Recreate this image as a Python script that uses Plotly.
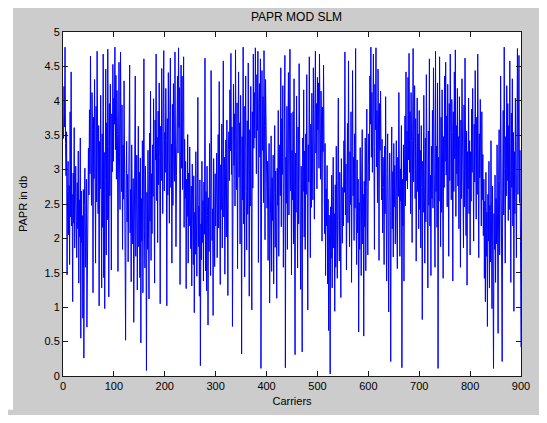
import plotly.graph_objects as go

# PAPR values per carrier, 900 carriers
papr_db = [
    3.45, 4.21, 3.62, 4.78, 3.38, 2.91, 3.55, 1.47, 2.68, 3.12, 2.05, 2.77, 1.62, 3.84, 2.31, 4.42, 2.18, 2.64, 1.08, 2.95, 2.22, 3.61, 1.86, 2.47, 3.05,
    2.38, 1.72, 2.81, 2.14, 3.27, 1.35, 2.56, 2.02, 3.46, 0.55, 2.69, 1.94, 2.33, 0.84, 2.71, 0.26, 2.48, 3.02, 1.58, 2.25, 2.86, 0.71, 2.41, 1.96, 3.31,
    2.63, 3.87, 2.94, 4.65, 3.22, 2.48, 4.12, 3.58, 1.21, 3.76, 2.87, 4.31, 3.05, 1.64, 3.92, 2.53, 4.72, 3.18, 2.36, 3.64, 1.02, 3.41, 2.72, 4.08, 2.45,
    1.28, 3.52, 2.16, 4.68, 1.43, 3.25, 0.98, 2.84, 4.46, 1.76, 3.68, 2.27, 4.75, 3.34, 1.15, 3.96, 2.62, 4.24, 3.48, 1.54, 3.81, 2.97, 4.53, 3.12, 4.04,
    3.66, 4.78, 3.29, 4.37, 2.86, 4.15, 3.51, 1.52, 3.88, 4.56, 3.17, 2.42, 4.71, 3.73, 2.68, 3.94, 1.84, 3.36, 2.57, 4.29, 2.13, 3.05, 0.52, 2.76, 3.41,
    2.24, 2.93, 1.66, 3.18, 2.47, 4.52, 2.08, 2.71, 1.37, 3.36, 2.55, 1.92, 2.87, 0.78, 3.02, 2.19, 4.36, 1.74, 2.62, 3.21, 1.25, 2.44, 3.63, 1.88, 2.96,
    1.43, 3.17, 0.48, 2.58, 1.96, 3.42, 1.21, 2.79, 4.61, 2.12, 1.57, 3.05, 2.36, 0.08, 2.67, 1.84, 3.28, 2.41, 1.12, 3.53, 2.25, 4.14, 1.68, 2.94, 2.07,
    3.36, 2.61, 4.03, 2.92, 1.35, 3.72, 3.14, 4.68, 2.55, 3.47, 1.94, 3.85, 2.78, 4.26, 3.19, 1.05, 3.63, 2.84, 4.47, 3.28, 2.36, 3.91, 4.73, 2.69, 3.54,
    2.96, 4.18, 3.42, 1.02, 3.74, 2.63, 4.41, 3.15, 2.22, 3.86, 4.62, 2.74, 3.37, 1.64, 3.95, 2.48, 4.25, 3.06, 2.83, 4.71, 3.52, 1.88, 2.91, 3.68, 4.36,
    3.24, 4.77, 3.61, 4.19, 1.33, 3.88, 4.52, 3.02, 4.36, 2.71, 3.79, 4.64, 2.16, 3.44, 2.58, 3.12, 1.27, 2.86, 2.32, 3.51, 1.64, 2.95, 2.18, 3.33, 2.47,
    1.85, 2.76, 1.31, 3.08, 2.24, 1.62, 2.91, 0.92, 2.38, 1.77, 3.26, 2.04, 1.45, 2.63, 4.05, 1.88, 2.47, 1.16, 2.85, 0.15, 2.21, 1.69, 3.12, 1.94, 2.55,
    1.38, 2.82, 2.06, 4.62, 1.53, 2.68, 1.24, 3.05, 2.33, 0.74, 2.59, 1.81, 3.38, 2.12, 1.46, 4.44, 2.74, 1.97, 2.43, 0.88, 3.16, 2.27, 1.59, 2.94, 2.18,
    2.66, 3.24, 1.72, 2.88, 3.51, 2.15, 4.28, 2.54, 1.33, 3.07, 2.42, 3.66, 1.86, 2.97, 4.58, 2.31, 3.18, 1.48, 2.79, 3.43, 2.02, 3.72, 2.61, 1.17, 3.29,
    3.55, 2.84, 4.16, 3.27, 4.69, 2.93, 3.62, 0.72, 3.38, 4.24, 3.06, 3.81, 2.47, 4.74, 3.33, 2.71, 3.97, 1.56, 3.46, 4.42, 2.89, 3.68, 1.92, 4.08, 3.15,
    0.32, 3.48, 2.56, 4.78, 2.21, 3.92, 1.44, 3.26, 4.36, 2.68, 1.83, 3.71, 2.35, 4.55, 2.94, 1.16, 3.58, 2.47, 4.21, 3.02, 0.96, 3.84, 2.73, 4.68, 3.31,
    4.12, 3.46, 4.77, 3.82, 2.94, 4.38, 3.57, 4.72, 1.65, 3.96, 4.25, 3.18, 4.61, 0.11, 3.75, 4.44, 3.28, 4.06, 2.52, 4.73, 3.64, 1.98, 4.31, 3.42, 2.86,
    2.44, 3.12, 1.68, 2.76, 3.38, 1.06, 2.53, 2.05, 3.49, 1.52, 2.88, 2.26, 3.21, 1.34, 2.67, 3.64, 1.87, 2.98, 2.32, 1.13, 3.02, 2.48, 3.86, 1.74, 2.91,
    3.36, 2.62, 4.48, 2.17, 3.74, 2.93, 4.22, 1.58, 3.45, 2.78, 4.66, 0.12, 3.18, 2.51, 3.92, 1.84, 3.57, 4.41, 2.34, 3.06, 4.75, 2.69, 3.82, 1.47, 3.28,
    2.56, 3.84, 1.92, 4.32, 2.76, 0.31, 3.24, 2.38, 4.07, 2.84, 1.57, 3.62, 2.21, 4.54, 2.93, 3.38, 1.26, 3.05, 2.47, 0.35, 3.46, 2.68, 4.16, 2.02, 3.27,
    1.84, 3.52, 2.64, 4.38, 2.19, 0.96, 3.36, 2.82, 4.64, 3.04, 1.72, 3.66, 2.45, 4.11, 3.18, 2.56, 4.48, 3.42, 2.28, 3.87, 4.72, 3.24, 3.96, 2.72, 4.34,
    3.58, 4.26, 3.02, 4.68, 3.44, 2.86, 4.14, 3.72, 1.96, 3.91, 3.26, 4.52, 2.64, 2.07, 3.38, 1.46, 2.72, 2.18, 3.06, 1.34, 2.57, 0.66, 2.34, 1.82, 0.03,
    2.46, 1.71, 2.92, 1.28, 2.54, 3.18, 1.86, 2.36, 0.94, 2.78, 1.58, 3.34, 2.12, 1.42, 2.84, 4.04, 2.26, 1.67, 2.96, 2.41, 1.14, 3.16, 2.52, 1.93, 2.74,
    2.18, 3.42, 2.67, 4.71, 2.34, 3.08, 1.54, 2.86, 3.67, 2.23, 4.58, 2.76, 1.88, 3.26, 2.49, 3.84, 1.36, 2.94, 4.44, 2.62, 3.18, 1.97, 3.52, 2.44, 4.76,
    2.36, 1.62, 3.14, 2.08, 2.86, 0.64, 2.52, 1.84, 3.32, 2.26, 1.46, 2.98, 3.58, 1.92, 2.64, 0.58, 2.83, 2.17, 3.46, 1.53, 2.74, 3.88, 2.31, 1.76, 3.06,
    3.52, 2.84, 4.36, 3.66, 4.78, 3.18, 4.12, 2.96, 3.82, 4.68, 3.34, 1.84, 4.24, 3.58, 4.77, 3.04, 3.86, 2.52, 4.46, 3.72, 1.68, 3.96, 3.28, 4.14, 2.88,
    2.56, 3.44, 2.08, 3.18, 2.74, 1.62, 3.34, 2.36, 4.06, 2.62, 1.38, 2.94, 3.52, 2.18, 0.93, 2.72, 3.24, 2.46, 0.21, 2.88, 3.62, 2.14, 2.97, 1.73, 3.38,
    2.46, 3.06, 1.92, 2.78, 3.42, 2.24, 1.56, 3.18, 2.61, 4.12, 2.32, 1.74, 3.01, 2.54, 3.64, 0.12, 2.86, 2.18, 3.36, 1.38, 2.92, 3.78, 2.47, 4.42, 2.84,
    3.56, 2.72, 4.34, 3.14, 4.69, 2.96, 3.84, 2.36, 4.12, 3.42, 1.94, 3.68, 4.76, 2.82, 3.36, 4.22, 2.58, 3.74, 1.67, 3.28, 4.04, 2.68, 3.52, 2.14, 3.86,
    2.42, 3.28, 1.86, 3.64, 2.74, 0.82, 3.12, 2.38, 4.08, 2.96, 1.64, 3.46, 2.24, 4.38, 2.66, 3.02, 1.28, 3.56, 2.48, 4.61, 2.18, 2.92, 1.46, 3.34, 2.58,
    3.86, 2.44, 4.48, 2.96, 3.62, 1.58, 4.72, 2.68, 3.34, 2.16, 4.26, 0.11, 3.18, 2.54, 4.64, 3.06, 1.88, 3.76, 2.38, 4.16, 2.86, 1.42, 3.48, 2.74, 4.36,
    3.12, 4.56, 2.92, 3.78, 2.46, 4.24, 3.36, 1.74, 3.96, 2.84, 4.68, 3.22, 2.56, 4.02, 3.54, 1.38, 3.84, 2.68, 4.42, 3.16, 4.74, 2.32, 3.64, 2.94, 4.18,
    2.76, 3.48, 2.14, 4.06, 3.02, 1.58, 3.72, 2.58, 4.32, 2.88, 3.36, 1.86, 3.94, 2.46, 4.62, 3.18, 2.04, 3.56, 1.32, 3.26, 2.72, 4.04, 2.36, 3.42, 1.76,
    3.26, 2.54, 3.88, 2.96, 4.18, 3.34, 1.96, 3.66, 2.82, 4.44, 3.08, 2.28, 3.76, 2.64, 4.68, 3.14, 1.72, 3.52, 2.88, 4.02, 3.46, 2.18, 3.84, 2.56, 3.22,
    2.04, 2.86, 1.42, 2.54, 1.08, 2.96, 1.74, 2.38, 0.72, 2.64, 1.96, 3.12, 1.28, 2.48, 1.66, 3.42, 2.22, 0.98, 2.76, 1.54, 0.11, 2.36, 1.84, 2.92, 1.36,
    2.58, 1.92, 3.36, 2.14, 0.62, 2.84, 3.58, 1.76, 2.46, 4.36, 2.08, 3.14, 0.21, 2.72, 3.86, 2.34, 4.78, 3.02, 1.64, 3.48, 2.62, 4.22, 2.84, 3.96, 2.26,
    3.64, 2.42, 4.58, 3.16, 1.36, 3.82, 2.74, 4.32, 2.18, 3.54, 0.94, 3.26, 2.36, 4.04, 2.88, 1.72, 3.42, 4.76, 2.64, 3.92, 4.66, 2.52, 3.28, 1.96, 0.42,
]
carriers = list(range(1, len(papr_db) + 1))

x_tickvals = [0, 100, 200, 300, 400, 500, 600, 700, 800, 900]
x_ticktext = ["0", "100", "200", "300", "400", "500", "600", "700", "800", "900"]
y_tickvals = [0, 0.5, 1, 1.5, 2, 2.5, 3, 3.5, 4, 4.5, 5]
y_ticktext = ["0", "0.5", "1", "1.5", "2", "2.5", "3", "3.5", "4", "4.5", "5"]

FONT = "Liberation Sans, Arial, Helvetica, sans-serif"

fig = go.Figure()
fig.add_trace(go.Scatter(
    x=carriers, y=papr_db, mode="lines",
    line=dict(color="#0000ff", width=1),
    showlegend=False, hoverinfo="skip",
))

# the page body adds an 8px margin on every side; size the figure so the page fits the window
W, H = 531, 407
ml, mr, mt, mb = 55, 9, 24, 31
pw, ph = W - ml - mr, H - mt - mb

axis_common = dict(
    showline=True, linecolor="#1a1a1a", linewidth=1, mirror="ticks",
    ticks="inside", ticklen=5, tickcolor="#1a1a1a", tickwidth=1,
    showgrid=False, zeroline=False, ticklabeloverflow="allow",
    tickfont=dict(family=FONT, size=11, color="#000000"),
)

fig.update_layout(
    width=W, height=H, autosize=False,
    margin=dict(l=ml, r=mr, t=mt, b=mb, pad=0),
    paper_bgcolor="#cccccc", plot_bgcolor="#ffffff",
    title=dict(text="PAPR MOD SLM", x=(ml + pw / 2) / W, xanchor="center",
               y=1 - 9 / H, yanchor="middle",
               font=dict(family=FONT, size=12, color="#000000")),
    xaxis=dict(range=[0, 900], tickvals=x_tickvals, ticktext=x_ticktext,
               title=dict(text="Carriers", standoff=6,
                          font=dict(family=FONT, size=11, color="#000000")),
               **axis_common),
    yaxis=dict(range=[0, 5], tickvals=y_tickvals, ticktext=y_ticktext,
               title=dict(text="PAPR in db", standoff=14,
                          font=dict(family=FONT, size=11, color="#000000")),
               **axis_common),
    shapes=[dict(type="rect", xref="paper", yref="paper",
                 x0=-ml / pw - 0.01, x1=(4 - ml) / pw,
                 y0=-mb / ph - 0.01, y1=1 + mt / ph + 0.01,
                 fillcolor="#ffffff", line=dict(width=0), layer="below")],
)

fig.write_html("out.html")
